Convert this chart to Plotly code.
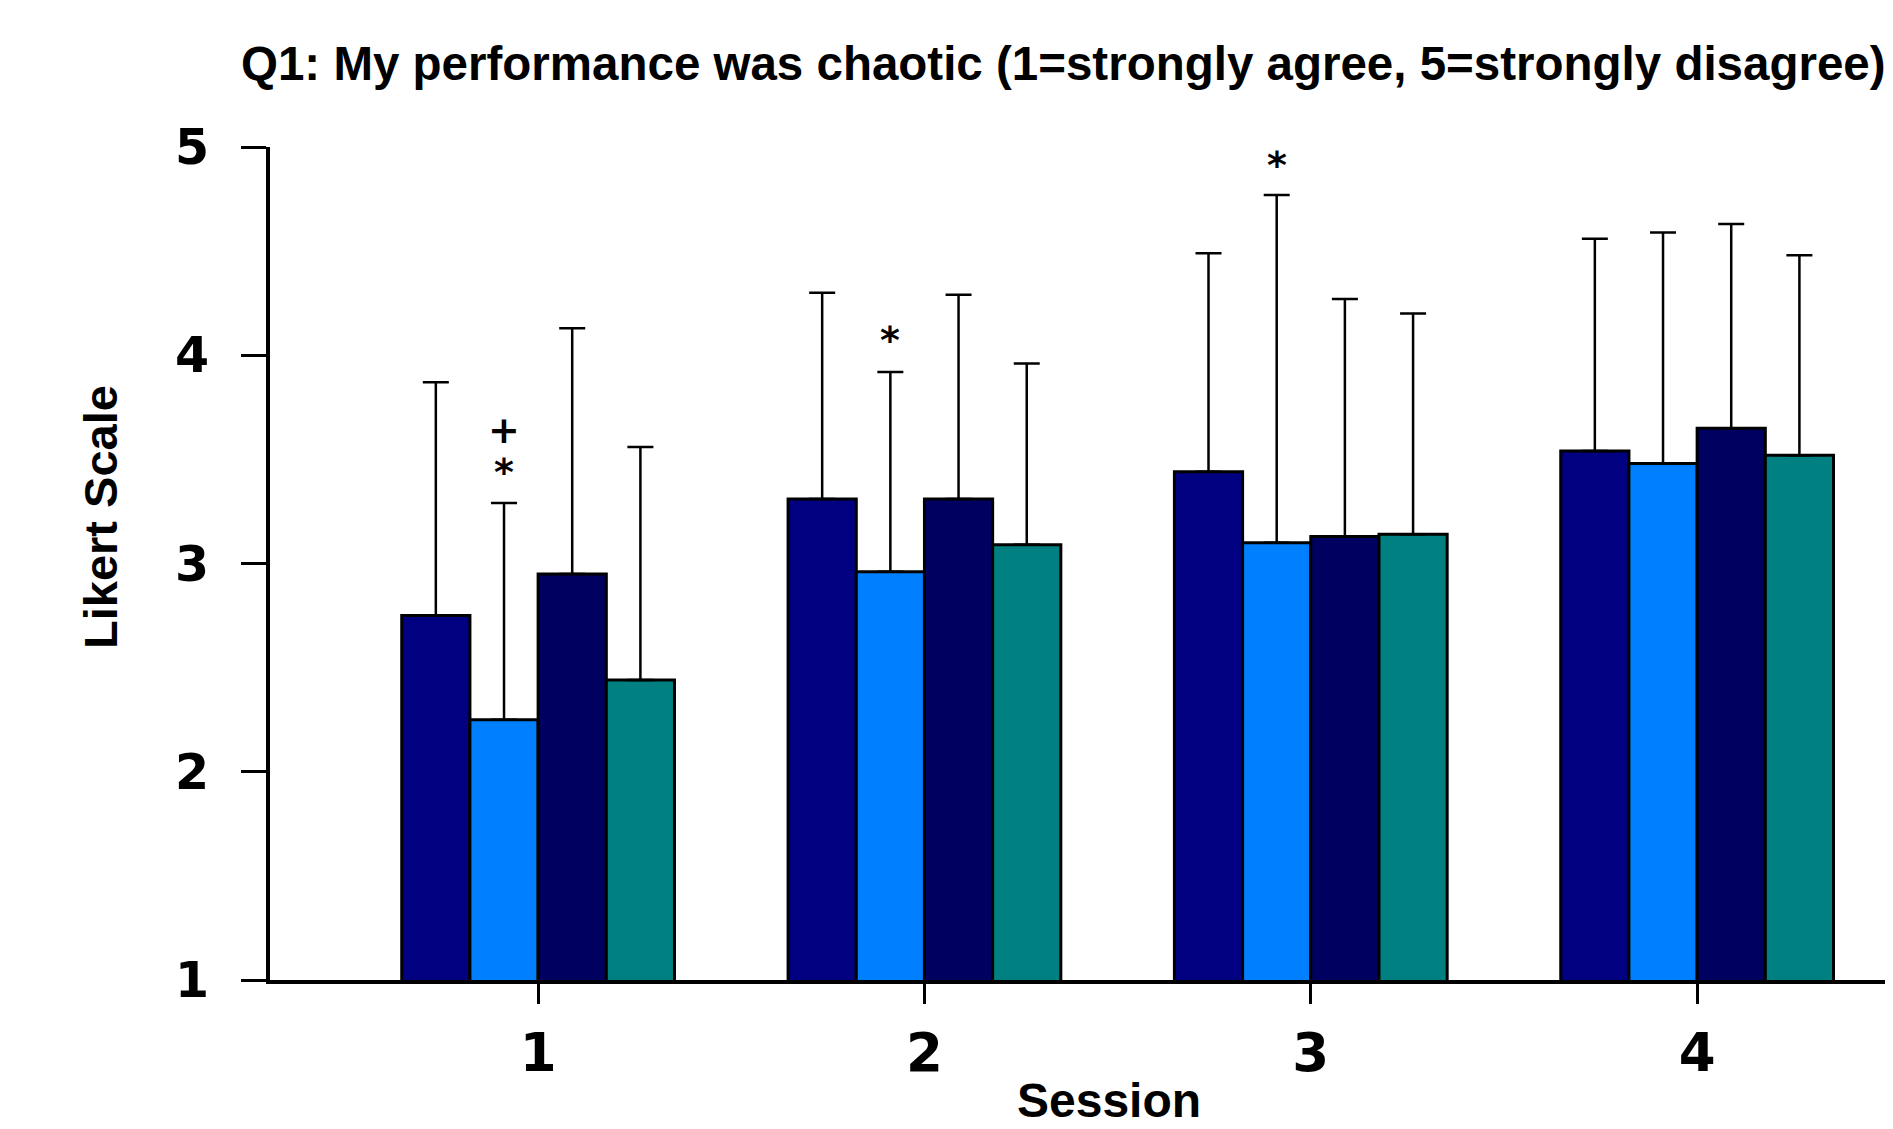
import plotly.graph_objects as go

sessions = [1, 2, 3, 4]
session_labels = ["1", "2", "3", "4"]

group_names = ["Group 1", "Group 2", "Group 3", "Group 4"]
group_colors = ["#000080", "#0080FF", "#000060", "#008080"]

means_g1 = [2.75, 3.31, 3.44, 3.54]
means_g2 = [2.25, 2.96, 3.10, 3.48]
means_g3 = [2.95, 3.31, 3.13, 3.65]
means_g4 = [2.44, 3.09, 3.14, 3.52]

sd_g1 = [1.12, 0.99, 1.05, 1.02]
sd_g2 = [1.04, 0.96, 1.67, 1.11]
sd_g3 = [1.18, 0.98, 1.14, 0.98]
sd_g4 = [1.12, 0.87, 1.06, 0.96]

# significance markers: (session, group index, text, y value)
marker_sessions = [1, 1, 2, 3]
marker_groups = [1, 1, 1, 1]
marker_texts = ["+", "*", "*", "*"]
marker_values = [3.67, 3.47, 4.10, 4.94]

title_text = "Q1: My performance was chaotic (1=strongly agree, 5=strongly disagree)"
y_title = "Likert Scale"
x_title = "Session"
y_ticks = [1, 2, 3, 4, 5]

means = [means_g1, means_g2, means_g3, means_g4]
sds = [sd_g1, sd_g2, sd_g3, sd_g4]

# page has an 8px body margin; figure is sized to fit the window
W, H = 1885, 1121
L, T, R, B = 262, 139, 0, 149
pw, ph = W - L - R, H - T - B

fig = go.Figure()
for name, color, m, s in zip(group_names, group_colors, means, sds):
    fig.add_trace(go.Bar(
        x=sessions, y=m, name=name,
        marker=dict(color=color, line=dict(color="black", width=3)),
        error_y=dict(type="data", array=s, arrayminus=[0] * len(s), symmetric=False,
                     color="black", thickness=2.5, width=13),
        showlegend=False,
    ))

bargap = 0.294
n_groups = len(group_names)
bar_w = (1 - bargap) / n_groups
for sess, gi, txt, val in zip(marker_sessions, marker_groups, marker_texts, marker_values):
    xpos = sess - (1 - bargap) / 2 + bar_w * (gi + 0.5)
    fig.add_annotation(x=xpos, y=val, xref="x", yref="y", text="<b>" + txt + "</b>",
                       showarrow=False, yanchor="middle", yshift=-6,
                       font=dict(family="DejaVu Sans", size=38, color="black"))

fig.add_annotation(text="<b>" + y_title + "</b>", xref="paper", yref="paper",
                   x=(93 - L) / pw, y=(H - B - 509) / ph,
                   textangle=-90, showarrow=False, xanchor="center", yanchor="middle",
                   font=dict(family="Liberation Sans", size=47, color="black"))
fig.add_annotation(text="<b>" + x_title + "</b>", xref="paper", yref="paper",
                   x=(1101 - L) / pw, y=-(1092 - (H - B)) / ph,
                   showarrow=False, xanchor="center", yanchor="middle",
                   font=dict(family="Liberation Sans", size=48, color="black"))

fig.update_layout(
    width=W, height=H,
    margin=dict(l=L, r=R, t=T, b=B),
    paper_bgcolor="white", plot_bgcolor="white",
    barmode="group", bargap=bargap, bargroupgap=0,
    title=dict(text="<b>" + title_text + "</b>", x=233 / W, xanchor="left",
               y=1 - 55 / H, yanchor="middle",
               font=dict(family="Liberation Sans", size=47.5, color="black")),
    xaxis=dict(range=[0.306, 4.507], tickvals=sessions, ticktext=session_labels,
               showgrid=False, zeroline=False, showline=True, linecolor="black", linewidth=4,
               ticks="outside", ticklen=20, tickwidth=3, tickcolor="black",
               ticklabelstandoff=3,
               tickfont=dict(family="DejaVu Sans", size=53, color="black", weight="bold")),
    yaxis=dict(range=[1, 5], tickvals=y_ticks, showgrid=False, zeroline=False,
               showline=True, linecolor="black", linewidth=4,
               ticks="outside", ticklen=25, tickwidth=3, tickcolor="black",
               ticklabelstandoff=22,
               tickfont=dict(family="DejaVu Sans", size=49, color="black", weight="bold")),
)

fig.write_html("out.html")
